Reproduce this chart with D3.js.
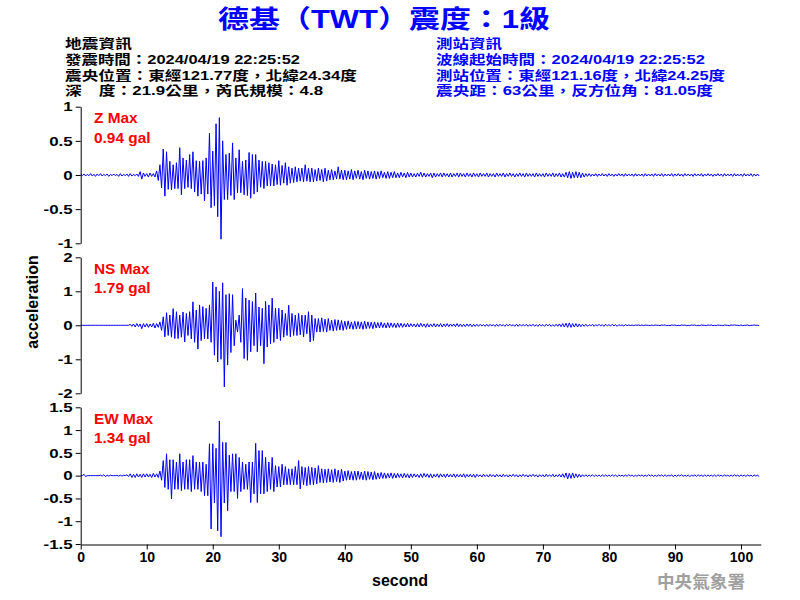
<!DOCTYPE html>
<html>
<head>
<meta charset="utf-8">
<script src="https://cdn.jsdelivr.net/npm/d3@7"></script>
<style>
  body { margin: 0; background: #fff; }
  svg { display: block; font-family: "Liberation Sans", Arial, "Noto Sans CJK TC", sans-serif; }
</style>
</head>
<body>
<div id="chart"></div>
<script>
// station + event info
const titleText = '德基（TWT）震度：1級';
const quakeInfo = ['地震資訊', '發震時間：2024/04/19 22:25:52', '震央位置：東經121.77度，北緯24.34度', '深　度：21.9公里，芮氏規模：4.8'];
const stationInfo = ['測站資訊', '波線起始時間：2024/04/19 22:25:52', '測站位置：東經121.16度，北緯24.25度', '震央距：63公里，反方位角：81.05度'];

const components = ['Z', 'NS', 'EW'];
const maxGal = ['0.94', '1.79', '1.34'];
const yDomains = [[-1, 1], [-2, 2], [-1.5, 1.5]];
const yTicks = [[-1, -0.5, 0, 0.5, 1], [-2, -1, 0, 1, 2], [-1.5, -1, -0.5, 0, 0.5, 1, 1.5]];
const xTicks = [0, 10, 20, 30, 40, 50, 60, 70, 80, 90, 100];
const duration = 103;
const binSize = 0.5; // seconds per bin, each bin keeps its peak and trough

// acceleration (gal): highest / lowest value in each 0.5 s bin
// 10 bins per row = 5 s
const zHi = [
  .01, .015, .01, .02, .01, .015, .02, .01, .015, .01,
  .015, .01, .02, .01, .015, .02, .01, .015, .05, .03,
  .02, .03, .02, .06, .15, .38, .34, .2, .15, .18,
  .40, .25, .22, .3, .34, .21, .2, .21, .25, .61,
  .35, .75, .84, .5, .3, .32, .47, .25, .37, .2,
  .22, .33, .3, .3, .22, .2, .2, .18, .16, .15,
  .21, .14, .18, .12, .1, .12, .1, .1, .15, .1,
  .1, .08, .1, .08, .1, .07, .08, .06, .12, .07,
  .07, .06, .08, .06, .07, .05, .07, .06, .05, .06,
  .05, .06, .04, .05, .04, .05, .03, .04, .03, .04,
  .03, .02, .03, .04, .03, .02, .03, .03, .02, .03,
  .03, .02, .03, .02, .03, .03, .02, .03, .02, .03,
  .02, .03, .02, .03, .02, .02, .03, .02, .03, .02,
  .03, .02, .02, .03, .02, .03, .02, .02, .03, .02,
  .02, .03, .02, .03, .02, .03, .02, .04, .05, .04,
  .05, .04, .03, .02, .02, .015, .02, .015, .02, .015,
  .02, .015, .015, .02, .015, .02, .015, .015, .02, .015,
  .015, .02, .015, .015, .02, .015, .02, .015, .015, .02,
  .015, .02, .015, .02, .015, .015, .02, .015, .02, .015,
  .02, .015, .015, .02, .015, .02, .015, .015, .02, .015,
  .015, .02, .015, .02, .015, .015
];
const zLo = [
  -.01, -.015, -.01, -.015, -.02, -.01, -.015, -.01, -.02, -.01,
  -.01, -.02, -.015, -.01, -.02, -.015, -.01, -.02, -.06, -.02,
  -.03, -.02, -.03, -.08, -.19, -.31, -.21, -.22, -.2, -.2,
  -.29, -.2, -.18, -.2, -.25, -.31, -.28, -.38, -.28, -.48,
  -.45, -.61, -.94, -.36, -.36, -.3, -.36, -.26, -.26, -.29,
  -.3, -.34, -.28, -.25, -.18, -.2, -.16, -.16, -.16, -.14,
  -.15, -.12, -.15, -.12, -.11, -.1, -.09, -.1, -.09, -.1,
  -.1, -.09, -.08, -.1, -.09, -.07, -.07, -.06, -.06, -.07,
  -.07, -.06, -.07, -.05, -.06, -.07, -.05, -.06, -.05, -.06,
  -.05, -.04, -.05, -.05, -.04, -.04, -.04, -.03, -.04, -.03,
  -.03, -.03, -.02, -.03, -.03, -.02, -.04, -.03, -.02, -.03,
  -.02, -.03, -.03, -.02, -.03, -.02, -.03, -.02, -.03, -.02,
  -.03, -.02, -.02, -.03, -.02, -.03, -.02, -.02, -.03, -.02,
  -.02, -.03, -.02, -.02, -.03, -.02, -.02, -.03, -.02, -.02,
  -.03, -.02, -.02, -.03, -.02, -.03, -.03, -.04, -.05, -.04,
  -.04, -.04, -.03, -.02, -.02, -.015, -.02, -.015, -.015, -.02,
  -.015, -.02, -.015, -.015, -.02, -.015, -.015, -.02, -.015, -.015,
  -.02, -.015, -.015, -.02, -.015, -.015, -.02, -.015, -.015, -.02,
  -.015, -.015, -.02, -.015, -.015, -.02, -.015, -.015, -.02, -.015,
  -.015, -.02, -.015, -.015, -.02, -.015, -.015, -.02, -.015, -.015,
  -.02, -.015, -.015, -.02, -.015, -.015
];
const nsHi = [
  0, 0, 0, 0, 0, 0, 0, 0, 0, 0,
  0, 0, 0, 0, 0, .03, .04, .05, .04, .05,
  .05, .04, .06, .05, .1, .25, .37, .3, .49, .4,
  .3, .39, .35, .4, .69, .45, .6, .55, .5, .6,
  1.27, 1.13, 1.0, 1.25, .9, .93, .9, .15, .3, 1.08,
  .8, .74, .7, .95, .54, .5, .7, .6, .8, .5,
  .5, .45, .35, .59, .35, .3, .35, .3, .3, .4,
  .3, .2, .2, .22, .18, .2, .15, .17, .16, .14,
  .12, .13, .1, .12, .11, .1, .12, .1, .09, .1,
  .08, .09, .07, .08, .07, .06, .07, .06, .05, .06,
  .05, .04, .05, .06, .04, .05, .04, .05, .04, .05,
  .04, .05, .04, .04, .05, .04, .03, .04, .04, .03,
  .03, .03, .02, .03, .03, .02, .03, .03, .02, .03,
  .03, .02, .03, .03, .02, .03, .02, .03, .02, .03,
  .02, .03, .03, .02, .03, .04, .05, .06, .07, .05,
  .05, .04, .03, .03, .02, .03, .02, .03, .02, .03,
  .02, .03, .02, .02, .01, .02, .01, .01, .01, .01,
  .01, .01, 0, .01, .01, 0, .01, .01, 0, .01,
  .01, 0, .01, .01, 0, .01, .01, 0, .01, 0,
  .01, .01, 0, .01, 0, .01, 0, .01, .01, 0,
  .01, 0, .01, 0, .01, 0
];
const nsLo = [
  0, 0, 0, 0, 0, 0, 0, 0, 0, 0,
  0, 0, 0, 0, 0, -.03, -.05, -.04, -.1, -.05,
  -.06, -.05, -.08, -.06, -.15, -.34, -.3, -.35, -.39, -.39,
  -.35, -.49, -.3, -.4, -.5, -.7, -.45, -.4, -.4, -.5,
  -.88, -1.08, -1.0, -1.81, -1.17, -.8, -.6, -.2, -.5, -.98,
  -1.03, -.78, -.6, -.78, -.6, -1.13, -.64, -.55, -.5, -.4,
  -.45, -.35, -.3, -.34, -.3, -.3, -.28, -.34, -.25, -.49,
  -.45, -.2, -.2, -.18, -.2, -.15, -.17, -.15, -.14, -.15,
  -.12, -.1, -.12, -.11, -.1, -.12, -.1, -.09, -.1, -.08,
  -.08, -.07, -.08, -.07, -.06, -.07, -.06, -.06, -.05, -.05,
  -.04, -.05, -.05, -.04, -.06, -.05, -.04, -.05, -.04, -.05,
  -.04, -.04, -.03, -.04, -.04, -.04, -.04, -.03, -.04, -.03,
  -.03, -.02, -.03, -.03, -.02, -.03, -.03, -.02, -.03, -.02,
  -.02, -.03, -.03, -.02, -.02, -.03, -.02, -.03, -.03, -.02,
  -.03, -.02, -.03, -.03, -.03, -.04, -.05, -.06, -.06, -.05,
  -.05, -.04, -.03, -.03, -.02, -.03, -.02, -.02, -.03, -.02,
  -.02, -.02, -.03, -.01, -.02, -.01, -.01, -.01, 0, -.01,
  -.01, 0, -.01, -.01, 0, -.01, 0, -.01, -.01, 0,
  -.01, -.01, 0, -.01, -.01, 0, -.01, -.01, 0, -.01,
  0, -.01, -.01, 0, -.01, 0, -.01, 0, 0, -.01,
  -.01, 0, -.01, 0, 0, -.01
];
const ewHi = [
  0, .03, 0, 0, 0, 0, .01, .02, .01, .01,
  0, .01, .01, .01, .02, .04, .03, .04, .03, .04,
  .04, .03, .05, .04, .1, .33, .48, .35, .35, .3,
  .48, .3, .35, .35, .44, .3, .3, .3, .25, .7,
  .7, .6, 1.2, .73, .73, .45, .48, .48, .4, .3,
  .25, .3, .3, .71, .55, .55, .4, .3, .4, .22,
  .2, .25, .2, .15, .15, .2, .33, .2, .18, .2,
  .18, .17, .22, .15, .14, .15, .13, .15, .12, .14,
  .1, .11, .09, .1, .1, .08, .1, .09, .08, .09,
  .06, .07, .06, .05, .06, .05, .05, .04, .05, .04,
  .04, .04, .03, .04, .05, .04, .04, .03, .04, .04,
  .03, .04, .03, .04, .03, .03, .04, .03, .03, .03,
  .03, .02, .03, .02, .03, .02, .03, .02, .03, .02,
  .02, .03, .02, .02, .03, .02, .02, .03, .02, .02,
  .02, .03, .02, .03, .02, .03, .04, .06, .05, .06,
  .04, .03, .02, .02, .015, .02, .015, .015, .02, .015,
  .015, .02, .015, .015, .01, .015, .02, .015, .01, .015,
  .015, .01, .02, .015, .01, .015, .015, .02, .01, .015,
  .01, .015, .02, .01, .015, .01, .015, .02, .01, .015,
  .015, .01, .015, .02, .01, .015, .01, .015, .02, .01,
  .015, .01, .015, .01, .015, .01
];
const ewLo = [
  0, -.02, 0, 0, 0, 0, -.01, -.02, -.01, 0,
  0, -.01, -.01, 0, -.02, -.04, -.04, -.03, -.04, -.03,
  -.03, -.04, -.03, -.04, -.1, -.26, -.3, -.51, -.3, -.3,
  -.33, -.3, -.3, -.35, -.3, -.3, -.35, -.44, -.44, -1.17,
  -.6, -1.21, -1.34, -.6, -.77, -.35, -.35, -.5, -.35, -.3,
  -.3, -.59, -.4, -.59, -.4, -.4, -.35, -.3, -.35, -.25,
  -.25, -.2, -.2, -.2, -.2, -.2, -.29, -.2, -.22, -.2,
  -.2, -.18, -.15, -.16, -.15, -.14, -.15, -.13, -.15, -.12,
  -.1, -.09, -.1, -.1, -.08, -.09, -.1, -.08, -.09, -.08,
  -.07, -.06, -.06, -.05, -.06, -.05, -.04, -.05, -.04, -.05,
  -.04, -.03, -.04, -.04, -.03, -.04, -.05, -.03, -.04, -.03,
  -.04, -.03, -.03, -.04, -.03, -.03, -.04, -.03, -.03, -.04,
  -.02, -.03, -.02, -.03, -.02, -.03, -.02, -.03, -.02, -.03,
  -.02, -.02, -.03, -.02, -.02, -.03, -.02, -.02, -.03, -.02,
  -.03, -.02, -.02, -.03, -.02, -.03, -.04, -.07, -.06, -.05,
  -.04, -.03, -.02, -.02, -.015, -.02, -.015, -.02, -.015, -.015,
  -.015, -.015, -.02, -.01, -.015, -.015, -.01, -.02, -.015, -.01,
  -.015, -.015, -.01, -.02, -.015, -.01, -.015, -.015, -.01, -.02,
  -.015, -.01, -.015, -.015, -.02, -.01, -.015, -.01, -.015, -.015,
  -.01, -.015, -.02, -.01, -.015, -.01, -.015, -.015, -.01, -.015,
  -.01, -.015, -.01, -.015, -.01, -.015
];
const highs = [zHi, nsHi, ewHi];
const lows = [zLo, nsLo, ewLo];

const svg = d3.select('#chart').append('svg')
    .attr('width', 800)
    .attr('height', 600);

// the source image is a little stretched sideways, so widen texts to match
function stretch(sel, k) {
    sel.each(function() {
        const w = this.getComputedTextLength();
        d3.select(this).attr('textLength', w * k).attr('lengthAdjust', 'spacingAndGlyphs');
    });
}
function fitTo(sel, w) {
    sel.attr('textLength', w).attr('lengthAdjust', 'spacingAndGlyphs');
}

// title
svg.append('text')
    .attr('x', 218).attr('y', 27.5)
    .attr('fill', '#0000ff')
    .attr('font-size', 25).attr('font-weight', 'bold')
    .text(titleText)
    .call(fitTo, 332);

// info blocks
const leftWidths = [67, 235, 292, 258];
const rightWidths = [66, 269, 289, 277];
const lineY = [48, 63.5, 79.5, 95];
quakeInfo.forEach((s, i) => {
    svg.append('text').attr('x', 65).attr('y', lineY[i])
        .attr('font-size', 13).attr('font-weight', 'bold').attr('fill', '#000')
        .text(s).call(fitTo, leftWidths[i]);
});
stationInfo.forEach((s, i) => {
    svg.append('text').attr('x', 436).attr('y', lineY[i])
        .attr('font-size', 13).attr('font-weight', 'bold').attr('fill', '#0000ff')
        .text(s).call(fitTo, rightWidths[i]);
});

const x = d3.scaleLinear().domain([0, duration]).range([80.7, 760.8]);
const yRanges = [[243.3, 106.7], [393.3, 257.3], [544, 407.3]];

components.forEach((c, k) => {
    const y = d3.scaleLinear().domain(yDomains[k]).range(yRanges[k]);

    // peak then trough of every bin, so the trace swings like the recorded waveform
    const pts = highs[k].flatMap((hi, i) => [
        [i * binSize, hi],
        [i * binSize + binSize / 2, lows[k][i]]
    ]);

    const line = d3.line()
        .x(d => x(d[0]))
        .y(d => y(d[1]));

    svg.append('path')
        .datum(pts)
        .attr('fill', 'none')
        .attr('stroke', '#0000ff')
        .attr('stroke-width', 1)
        .attr('d', line);

    const ax = svg.append('g')
        .attr('transform', 'translate(80.7,0)')
        .call(d3.axisLeft(y).tickValues(yTicks[k]).tickSize(5).tickSizeOuter(0).tickFormat(d => String(d)));
    ax.select('.domain').attr('stroke', '#000');
    ax.selectAll('text')
        .attr('font-size', 13).attr('font-weight', 'bold').attr('fill', '#000')
        .attr('font-family', '"Liberation Sans", Arial, sans-serif')
        .call(stretch, 1.3);

    const top = yRanges[k][1];
    svg.append('text').attr('x', 94).attr('y', top + 16.5)
        .attr('fill', '#ff0000').attr('font-size', 14).attr('font-weight', 'bold')
        .text(c + ' Max').call(stretch, 1.1);
    svg.append('text').attr('x', 94).attr('y', top + 36)
        .attr('fill', '#ff0000').attr('font-size', 14).attr('font-weight', 'bold')
        .text(maxGal[k] + ' gal').call(stretch, 1.1);
});

// x axis under the last panel
const xa = svg.append('g')
    .attr('transform', 'translate(0,544.5)')
    .call(d3.axisBottom(x).tickValues(xTicks).tickSize(5).tickSizeOuter(0));
xa.selectAll('text')
    .attr('font-size', 14).attr('font-weight', 'bold').attr('fill', '#000')
    .attr('font-family', '"Liberation Sans", Arial, sans-serif');

svg.append('text')
    .attr('x', 400).attr('y', 586)
    .attr('text-anchor', 'middle')
    .attr('font-size', 16).attr('font-weight', 'bold')
    .text('second');

svg.append('text')
    .attr('transform', 'translate(38,302) rotate(-90)')
    .attr('text-anchor', 'middle')
    .attr('font-size', 16).attr('font-weight', 'bold')
    .text('acceleration');

svg.append('text')
    .attr('x', 657).attr('y', 588)
    .attr('fill', '#a0a0a0')
    .attr('font-size', 17).attr('font-weight', 'bold')
    .text('中央氣象署')
    .call(fitTo, 88);
</script>
</body>
</html>
